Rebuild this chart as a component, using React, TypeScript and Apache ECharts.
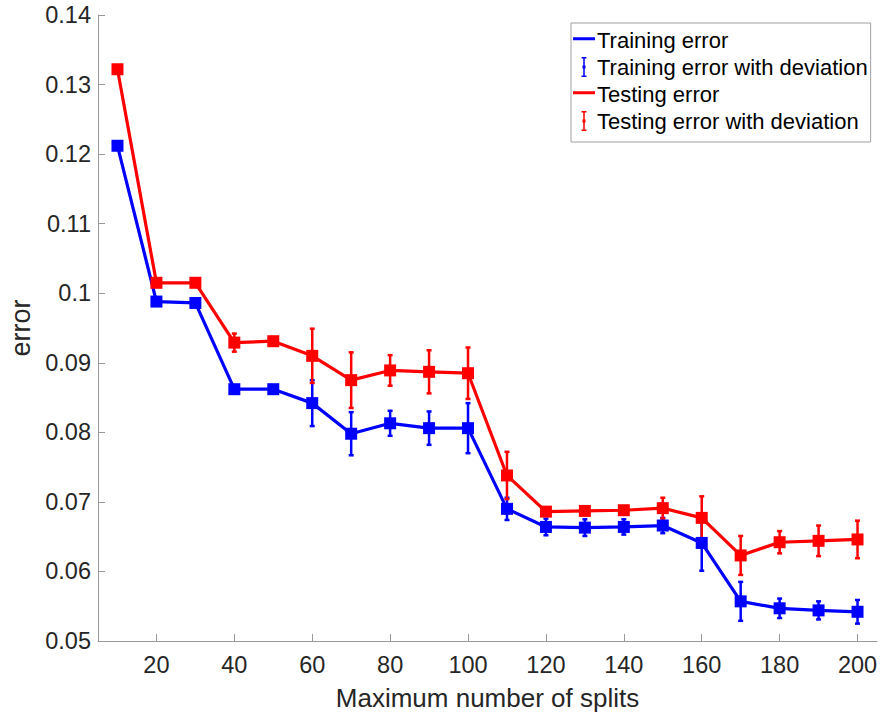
import React, { useEffect, useRef } from "react";
import * as echarts from "echarts";

const splits = [10, 20, 30, 40, 50, 60, 70, 80, 90, 100, 110, 120, 130, 140, 150, 160, 170, 180, 190, 200];
const trainErr = [0.1212, 0.0988, 0.0986, 0.0862, 0.0862, 0.0842, 0.0798, 0.0813, 0.0806, 0.0806, 0.069, 0.0664, 0.0663, 0.0664, 0.0666, 0.0641, 0.0557, 0.0547, 0.0544, 0.0542];
const trainDev = [0.0003, 0.0003, 0.0003, 0.0003, 0.0003, 0.0033, 0.0031, 0.0018, 0.0024, 0.0036, 0.0016, 0.0012, 0.0012, 0.0011, 0.0011, 0.004, 0.0028, 0.0014, 0.0013, 0.0017];
const testErr = [0.1322, 0.1015, 0.1015, 0.0929, 0.0931, 0.091, 0.0875, 0.0889, 0.0887, 0.0885, 0.0738, 0.0686, 0.0687, 0.0688, 0.0691, 0.0677, 0.0623, 0.0642, 0.0644, 0.0646];
const testDev = [0.0002, 0.0002, 0.0002, 0.0013, 0.0003, 0.0039, 0.004, 0.0022, 0.0031, 0.0037, 0.0034, 0.0004, 0.0004, 0.0004, 0.0015, 0.0031, 0.0028, 0.0016, 0.0022, 0.0027];
const xTicks = [20, 40, 60, 80, 100, 120, 140, 160, 180, 200];
const seriesNames = ["Training error", "Training error with deviation", "Testing error", "Testing error with deviation"];

const FONT = "Liberation Sans, Arial, Helvetica, sans-serif";
const BLUE = "#0000ff";
const RED = "#ff0000";

const corners = "M0,0 L0.01,0 L0,0.01 Z M22,22 L21.99,22 L22,21.99 Z ";
const lineIcon = "path://" + corners + "M0,8.3 L22,8.3 L22,11.3 L0,11.3 Z";
const errIcon =
  "path://" + corners +
  "M10.25,1 L11.75,1 L11.75,21 L10.25,21 Z M8.5,1 L13.5,1 L13.5,2.5 L8.5,2.5 Z M8.5,19.5 L13.5,19.5 L13.5,21 L8.5,21 Z M9.5,9.5 L12.5,9.5 L12.5,12.5 L9.5,12.5 Z";

function errSeries(name: string, ys: number[], devs: number[], color: string) {
  return {
    type: "custom",
    name,
    z: 3,
    data: splits.map((x, i) => [x, ys[i], devs[i]]),
    renderItem: (params: any, api: any) => {
      const x = api.value(0);
      const y = api.value(1);
      const d = api.value(2);
      const top = api.coord([x, y + d]);
      const bot = api.coord([x, y - d]);
      const hw = 2.5;
      const style = { stroke: color, lineWidth: 2.5, fill: "none" };
      return {
        type: "group",
        children: [
          { type: "line", shape: { x1: top[0], y1: top[1], x2: bot[0], y2: bot[1] }, style },
          { type: "line", shape: { x1: top[0] - hw, y1: top[1], x2: top[0] + hw, y2: top[1] }, style },
          { type: "line", shape: { x1: bot[0] - hw, y1: bot[1], x2: bot[0] + hw, y2: bot[1] }, style },
        ],
      };
    },
  };
}

function lineSeries(name: string, ys: number[], color: string) {
  return {
    type: "line",
    name,
    data: splits.map((x, i) => [x, ys[i]]),
    symbol: "rect",
    symbolSize: 12,
    showSymbol: true,
    lineStyle: { color, width: 3.2 },
    itemStyle: { color },
    color,
  };
}

export default function App() {
  const ref = useRef<HTMLDivElement>(null);
  useEffect(() => {
    if (!ref.current) return;
    const chart = echarts.init(ref.current, null, { renderer: "svg" });
    chart.setOption({
      animation: false,
      backgroundColor: "#ffffff",
      textStyle: { fontFamily: FONT },
      grid: { left: 98, right: 9, top: 15, bottom: 71, containLabel: false, outerBoundsMode: "none" },
      legend: {
        orient: "vertical",
        left: 571,
        top: 23,
        padding: [6, 3, 10, 2],
        itemGap: 5,
        itemWidth: 22,
        itemHeight: 22,
        backgroundColor: "#ffffff",
        borderColor: "#a0a0a0",
        borderWidth: 1,
        borderRadius: 0,
        textStyle: { fontFamily: FONT, fontSize: 22, lineHeight: 22, color: "#000000", padding: [0, 0, 0, -3] },
        data: [
          { name: seriesNames[0], icon: lineIcon, itemStyle: { color: BLUE } },
          { name: seriesNames[1], icon: errIcon, itemStyle: { color: BLUE } },
          { name: seriesNames[2], icon: lineIcon, itemStyle: { color: RED } },
          { name: seriesNames[3], icon: errIcon, itemStyle: { color: RED } },
        ],
      },
      xAxis: {
        type: "value",
        min: 5,
        max: 205,
        name: "Maximum number of splits",
        nameLocation: "middle",
        nameGap: 45,
        nameTextStyle: { fontFamily: FONT, fontSize: 26, lineHeight: 24, color: "#262626" },
        splitLine: { show: false },
        axisLine: { show: true, lineStyle: { color: "#9a9a9a", width: 1 } },
        axisTick: { show: true, inside: true, length: 7, customValues: xTicks, lineStyle: { color: "#9a9a9a" } },
        axisLabel: { customValues: xTicks, fontFamily: FONT, fontSize: 23.5, color: "#262626", margin: 12 },
      },
      yAxis: {
        type: "value",
        min: 0.05,
        max: 0.14,
        interval: 0.01,
        name: "error",
        nameLocation: "middle",
        nameGap: 47,
        nameTextStyle: { fontFamily: FONT, fontSize: 27, color: "#262626" },
        splitLine: { show: false },
        axisLine: { show: true, lineStyle: { color: "#9a9a9a", width: 1 } },
        axisTick: { show: true, inside: true, length: 7, lineStyle: { color: "#9a9a9a" } },
        axisLabel: {
          fontFamily: FONT,
          fontSize: 23.5,
          color: "#262626",
          margin: 7,
          formatter: (v: number) => String(parseFloat(v.toFixed(2))),
        },
      },
      series: [
        lineSeries(seriesNames[0], trainErr, BLUE),
        errSeries(seriesNames[1], trainErr, trainDev, BLUE),
        lineSeries(seriesNames[2], testErr, RED),
        errSeries(seriesNames[3], testErr, testDev, RED),
      ],
    });
    return () => chart.dispose();
  }, []);
  return <div ref={ref} style={{ width: 886, height: 712, position: "absolute", left: 0, top: 0 }} />;
}
